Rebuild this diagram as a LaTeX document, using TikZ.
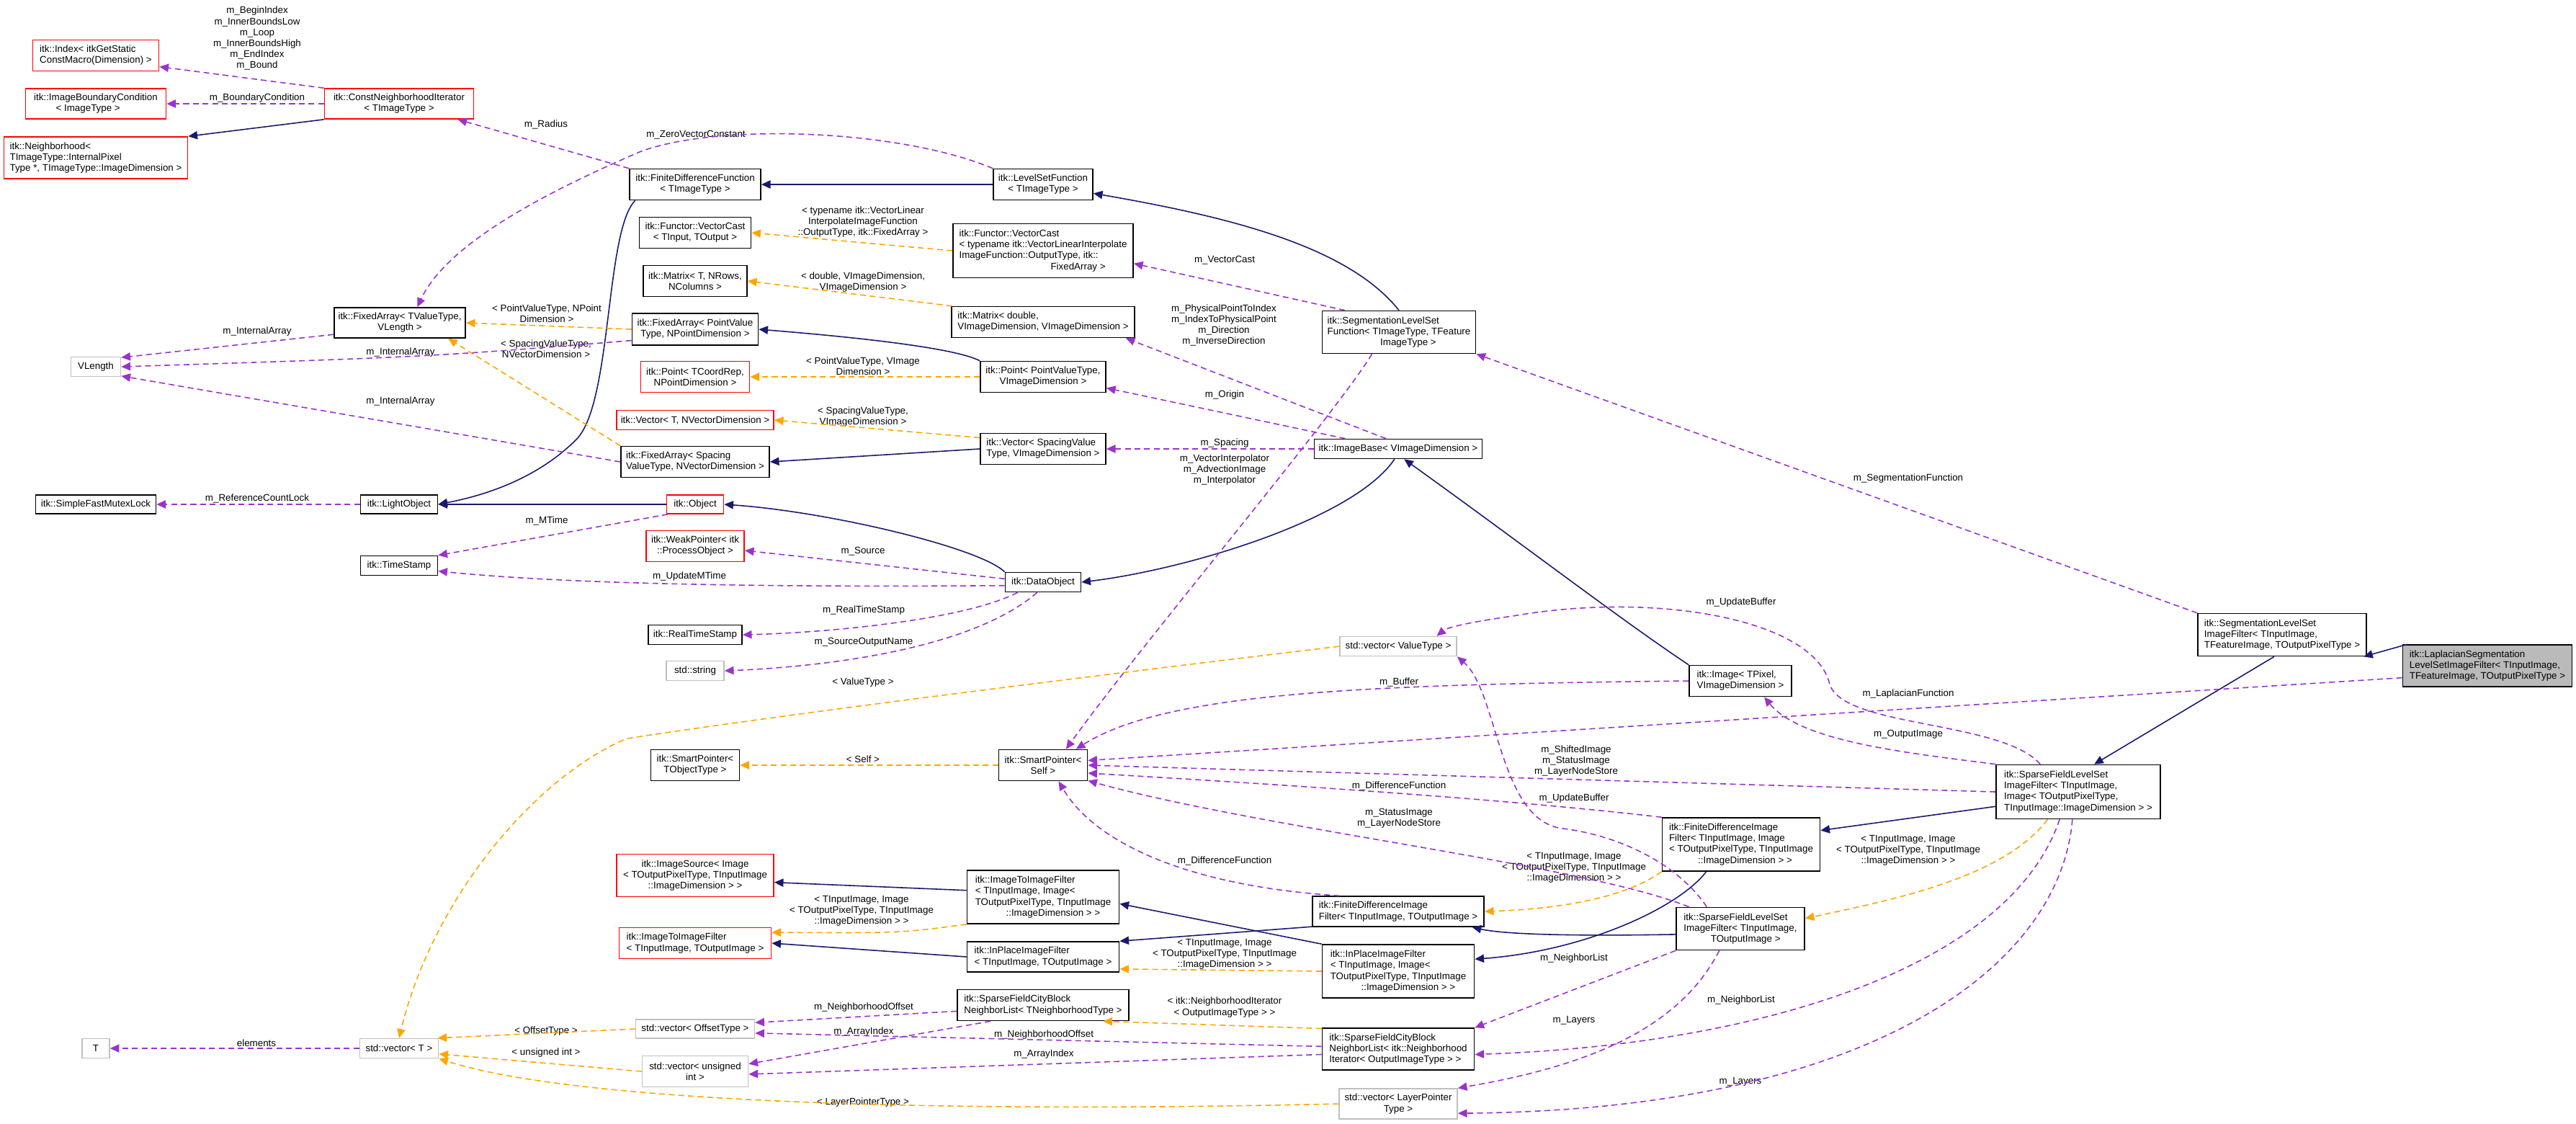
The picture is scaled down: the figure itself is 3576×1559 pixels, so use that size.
\documentclass[tikz,border=0pt]{standalone}
\usepackage{fontspec}
\setmainfont{Liberation Sans}
\usetikzlibrary{arrows.meta}
\definecolor{navy}{HTML}{191970}
\definecolor{purp}{HTML}{9A32CD}
\definecolor{orng}{HTML}{FFA500}
\begin{document}
\begin{tikzpicture}[x=0.01cm,y=-0.01cm,
  every node/.style={font=\fontsize{3.8}{4.27}\selectfont, inner sep=0pt},
  box/.style={draw=black, line width=0.45pt, fill=white, align=left},
  rbox/.style={box, draw=red},
  gbox/.style={box, draw=black!25},
  lbl/.style={align=center},
  tip/.style={-{Triangle[length=3.6pt,width=3.2pt]}},
  inh/.style={tip, draw=navy, line width=0.45pt},
  use/.style={tip, draw=purp, line width=0.45pt, dash pattern=on 2.3pt off 1.5pt},
  tpl/.style={tip, draw=orng, line width=0.45pt, dash pattern=on 2.3pt off 1.5pt}]
\useasboundingbox (0,0) rectangle (3576,1559);
% ---------- nodes ----------
\node[rbox,minimum width=1.75cm,minimum height=0.43cm] (idx) at (133,77) {itk::Index< itkGetStatic\\ConstMacro(Dimension) >};
\node[rbox,minimum width=1.95cm,minimum height=0.42cm] (ibc) at (133,144) {itk::ImageBoundaryCondition\\ \quad\quad\ < ImageType >};
\node[rbox,minimum width=2.55cm,minimum height=0.58cm] (nbh) at (133,219) {itk::Neighborhood<\\ TImageType::InternalPixel\\Type *, TImageType::ImageDimension >};
\node[rbox,minimum width=2.07cm,minimum height=0.42cm,align=center] (cni) at (554,144) {itk::ConstNeighborhoodIterator\\< TImageType >};
\node[box,minimum width=1.82cm,minimum height=0.42cm,align=center] (fatv) at (555,448) {itk::FixedArray< TValueType,\\VLength >};
\node[gbox,minimum width=0.69cm,minimum height=0.27cm] (vlen) at (133,509) {VLength};
\node[box,minimum width=1.67cm,minimum height=0.26cm] (sfml) at (133,700) {itk::SimpleFastMutexLock};
\node[box,minimum width=1.07cm,minimum height=0.26cm] (lobj) at (554,700) {itk::LightObject};
\node[box,minimum width=1.07cm,minimum height=0.27cm] (ts) at (554,785) {itk::TimeStamp};
\node[box,minimum width=1.82cm,minimum height=0.43cm,align=center] (fdf) at (965,256) {itk::FiniteDifferenceFunction\\< TImageType >};
\node[box,minimum width=1.55cm,minimum height=0.43cm,align=center] (vcT) at (965,323) {itk::Functor::VectorCast\\< TInput, TOutput >};
\node[box,minimum width=1.44cm,minimum height=0.43cm,align=center] (mT) at (965,390) {itk::Matrix< T, NRows,\\NColumns >};
\node[box,minimum width=1.75cm,minimum height=0.44cm,align=center] (fapv) at (965,457) {itk::FixedArray< PointValue\\Type, NPointDimension >};
\node[rbox,minimum width=1.51cm,minimum height=0.43cm,align=center] (ptT) at (965,523) {itk::Point< TCoordRep,\\NPointDimension >};
\node[rbox,minimum width=2.18cm,minimum height=0.27cm] (vecT) at (965,583) {itk::Vector< T, NVectorDimension >};
\node[box,minimum width=2.06cm,minimum height=0.43cm] (fas) at (965,641) {itk::FixedArray< Spacing\\ValueType, NVectorDimension >};
\node[rbox,minimum width=0.79cm,minimum height=0.26cm] (obj) at (965,700) {itk::Object};
\node[rbox,minimum width=1.36cm,minimum height=0.43cm,align=center] (wp) at (965,758) {itk::WeakPointer< itk\\::ProcessObject >};
\node[box,minimum width=1.30cm,minimum height=0.27cm] (rts) at (965,881) {itk::RealTimeStamp};
\node[gbox,minimum width=0.80cm,minimum height=0.27cm] (str) at (965,931) {std::string};
\node[box,minimum width=1.23cm,minimum height=0.43cm,align=center] (spT) at (965,1062) {itk::SmartPointer<\\TObjectType >};
\node[rbox,minimum width=2.18cm,minimum height=0.59cm,align=center] (isrc) at (965,1215) {itk::ImageSource< Image\\< TOutputPixelType, TInputImage\\::ImageDimension > >};
\node[rbox,minimum width=2.11cm,minimum height=0.43cm] (itifR) at (965,1309) {itk::ImageToImageFilter\\< TInputImage, TOutputImage >};
\node[gbox,minimum width=1.65cm,minimum height=0.26cm] (vOff) at (965,1428) {std::vector< OffsetType >};
\node[gbox,minimum width=1.47cm,minimum height=0.43cm,align=center] (vUns) at (965,1487) {std::vector< unsigned\\int >};
\node[gbox,minimum width=0.38cm,minimum height=0.27cm] (Tn) at (133,1455) {T};
\node[gbox,minimum width=1.09cm,minimum height=0.27cm] (vT) at (554,1455) {std::vector< T >};
\node[box,minimum width=1.38cm,minimum height=0.43cm,align=center] (lsf) at (1448,256) {itk::LevelSetFunction\\< TImageType >};
\node[box,minimum width=2.50cm,minimum height=0.75cm] (vcTy) at (1448,348) {itk::Functor::VectorCast\\< typename itk::VectorLinearInterpolate\\ImageFunction::OutputType, itk::\\\hspace*{9.5em}FixedArray >};
\node[box,minimum width=2.54cm,minimum height=0.43cm] (mD) at (1448,447) {itk::Matrix< double,\\ VImageDimension, VImageDimension >};
\node[box,minimum width=1.74cm,minimum height=0.43cm,align=center] (ppv) at (1448,523) {itk::Point< PointValueType,\\VImageDimension >};
\node[box,minimum width=1.74cm,minimum height=0.43cm] (vsp) at (1448,623) {itk::Vector< SpacingValue\\Type, VImageDimension >};
\node[box,minimum width=1.05cm,minimum height=0.27cm] (dobj) at (1448,808) {itk::DataObject};
\node[box,minimum width=1.23cm,minimum height=0.43cm,align=center] (spS) at (1448,1062) {itk::SmartPointer<\\Self >};
\node[box,minimum width=2.11cm,minimum height=0.74cm] (itifI) at (1448,1245) {itk::ImageToImageFilter\\< TInputImage, Image<\\ TOutputPixelType, TInputImage\\\hspace*{3.2em}::ImageDimension > >};
\node[box,minimum width=2.11cm,minimum height=0.42cm] (ipT) at (1448,1328) {itk::InPlaceImageFilter\\< TInputImage, TOutputImage >};
\node[box,minimum width=2.38cm,minimum height=0.43cm] (sfcT) at (1448,1395) {itk::SparseFieldCityBlock\\NeighborList< TNeighborhoodType >};
\node[box,minimum width=2.13cm,minimum height=0.59cm] (slsf) at (1942,461) {itk::SegmentationLevelSet\\Function< TImageType, TFeature\\\hspace*{5.5em}ImageType >};
\node[box,minimum width=2.33cm,minimum height=0.27cm] (ib) at (1941,623) {itk::ImageBase< VImageDimension >};
\node[gbox,minimum width=1.62cm,minimum height=0.27cm] (vVT) at (1941,897) {std::vector< ValueType >};
\node[box,minimum width=2.38cm,minimum height=0.42cm] (fdifT) at (1941,1265) {itk::FiniteDifferenceImage\\Filter< TInputImage, TOutputImage >};
\node[box,minimum width=2.11cm,minimum height=0.74cm] (ipI) at (1941,1348) {itk::InPlaceImageFilter\\< TInputImage, Image<\\ TOutputPixelType, TInputImage\\\hspace*{3.2em}::ImageDimension > >};
\node[box,minimum width=2.11cm,minimum height=0.58cm] (sfcN) at (1941,1456) {itk::SparseFieldCityBlock\\NeighborList< itk::Neighborhood\\Iterator< OutputImageType > >};
\node[gbox,minimum width=1.64cm,minimum height=0.42cm,align=center] (vLP) at (1941,1532) {std::vector< LayerPointer\\Type >};
\node[box,minimum width=1.42cm,minimum height=0.43cm] (img) at (2416,945) {itk::Image< TPixel,\\ VImageDimension >};
\node[box,minimum width=2.19cm,minimum height=0.74cm] (fdifI) at (2417,1172) {itk::FiniteDifferenceImage\\Filter< TInputImage, Image\\< TOutputPixelType, TInputImage\\\hspace*{3em}::ImageDimension > >};
\node[box,minimum width=1.78cm,minimum height=0.59cm] (sflsT) at (2416,1289) {itk::SparseFieldLevelSet\\ImageFilter< TInputImage,\\\hspace*{2.8em}TOutputImage >};
\node[box,minimum width=2.28cm,minimum height=0.75cm] (big) at (2885,1099) {itk::SparseFieldLevelSet\\ImageFilter< TInputImage,\\ Image< TOutputPixelType,\\ TInputImage::ImageDimension > >};
\node[box,minimum width=2.34cm,minimum height=0.59cm] (slsif) at (3168,881) {itk::SegmentationLevelSet\\ImageFilter< TInputImage,\\ TFeatureImage, TOutputPixelType >};
\node[box,fill=black!27,minimum width=2.35cm,minimum height=0.58cm] (lap) at (3453,924) {itk::LaplacianSegmentation\\LevelSetImageFilter< TInputImage,\\ TFeatureImage, TOutputPixelType >};
% ---------- labels ----------
\node[lbl] at (357,53) {m\_BeginIndex\\m\_InnerBoundsLow\\m\_Loop\\m\_InnerBoundsHigh\\m\_EndIndex\\m\_Bound};
\node[lbl] at (357,136) {m\_BoundaryCondition};
\node[lbl] at (758,173) {m\_Radius};
\node[lbl] at (966,187) {m\_ZeroVectorConstant};
\node[lbl] at (1198,308) {< typename itk::VectorLinear\\InterpolateImageFunction\\::OutputType, itk::FixedArray >};
\node[lbl] at (1700,361) {m\_VectorCast};
\node[lbl] at (1198,392) {< double, VImageDimension,\\ VImageDimension >};
\node[lbl] at (1699,451) {m\_PhysicalPointToIndex\\m\_IndexToPhysicalPoint\\m\_Direction\\m\_InverseDirection};
\node[lbl] at (759,435) {< PointValueType, NPoint\\Dimension >};
\node[lbl] at (357,460) {m\_InternalArray};
\node[lbl] at (556,489) {m\_InternalArray};
\node[lbl] at (758,484) {< SpacingValueType,\\ NVectorDimension >};
\node[lbl] at (1198,508) {< PointValueType, VImage\\Dimension >};
\node[lbl] at (1700,548) {m\_Origin};
\node[lbl] at (1198,579) {< SpacingValueType,\\ VImageDimension >};
\node[lbl] at (556,557) {m\_InternalArray};
\node[lbl] at (1700,615) {m\_Spacing};
\node[lbl] at (1700,652) {m\_VectorInterpolator\\m\_AdvectionImage\\m\_Interpolator};
\node[lbl] at (2649,664) {m\_SegmentationFunction};
\node[lbl] at (357,692) {m\_ReferenceCountLock};
\node[lbl] at (759,723) {m\_MTime};
\node[lbl] at (1198,765) {m\_Source};
\node[lbl] at (957,800) {m\_UpdateMTime};
\node[lbl] at (2417,836) {m\_UpdateBuffer};
\node[lbl] at (1199,847) {m\_RealTimeStamp};
\node[lbl] at (1199,891) {m\_SourceOutputName};
\node[lbl] at (1198,947) {< ValueType >};
\node[lbl] at (1942,947) {m\_Buffer};
\node[lbl] at (2649,963) {m\_LaplacianFunction};
\node[lbl] at (2649,1019) {m\_OutputImage};
\node[lbl] at (1198,1054) {< Self >};
\node[lbl] at (2188,1056) {m\_ShiftedImage\\m\_StatusImage\\m\_LayerNodeStore};
\node[lbl] at (1942,1091) {m\_DifferenceFunction};
\node[lbl] at (2185,1108) {m\_UpdateBuffer};
\node[lbl] at (1942,1136) {m\_StatusImage\\m\_LayerNodeStore};
\node[lbl] at (2649,1180) {< TInputImage, Image\\< TOutputPixelType, TInputImage\\::ImageDimension > >};
\node[lbl] at (1700,1195) {m\_DifferenceFunction};
\node[lbl] at (2185,1204) {< TInputImage, Image\\< TOutputPixelType, TInputImage\\::ImageDimension > >};
\node[lbl] at (1196,1264) {< TInputImage, Image\\< TOutputPixelType, TInputImage\\::ImageDimension > >};
\node[lbl] at (1700,1324) {< TInputImage, Image\\< TOutputPixelType, TInputImage\\::ImageDimension > >};
\node[lbl] at (2185,1330) {m\_NeighborList};
\node[lbl] at (2417,1388) {m\_NeighborList};
\node[lbl] at (1700,1398) {< itk::NeighborhoodIterator\\< OutputImageType > >};
\node[lbl] at (1199,1398) {m\_NeighborhoodOffset};
\node[lbl] at (2185,1416) {m\_Layers};
\node[lbl] at (1199,1432) {m\_ArrayIndex};
\node[lbl] at (758,1431) {< OffsetType >};
\node[lbl] at (1449,1436) {m\_NeighborhoodOffset};
\node[lbl] at (356,1448) {elements};
\node[lbl] at (758,1461) {< unsigned int >};
\node[lbl] at (1449,1463) {m\_ArrayIndex};
\node[lbl] at (2416,1501) {m\_Layers};
\node[lbl] at (1198,1530) {< LayerPointerType >};
% ---------- inheritance ----------
\draw[inh] (cni.south west) -- (nbh.north east);
\draw[inh] (lsf.west) -- (fdf.east);
\draw[inh] (fdf.195) .. controls (840,320) and (850,560) .. (800,610) .. controls (740,670) and (660,690) .. (lobj.east);
\draw[inh] (obj.west) -- (lobj.east);
\draw[inh] (slsf.north) .. controls (1870,340) and (1700,300) .. (lsf.-10);
\draw[inh] (ppv.north west) .. controls (1320,480) and (1150,465) .. (fapv.east);
\draw[inh] (vsp.west) -- (fas.east);
\draw[inh] (dobj.north west) .. controls (1360,760) and (1150,710) .. (obj.east);
\draw[inh] (ib.250) .. controls (1880,720) and (1650,790) .. (dobj.east);
\draw[inh] (img.north west) .. controls (2250,860) and (2120,760) .. (ib.-60);
\draw[inh] (lap.165) -- (slsif.-15);
\draw[inh] (slsif.250) -- (big.60);
\draw[inh] (big.190) -- (fdifI.10);
\draw[inh] (fdifI.218) .. controls (2330,1260) and (2200,1320) .. (ipI.9);
\draw[inh] (sflsT.185) .. controls (2150,1300) and (2080,1295) .. (fdifT.-12);
\draw[inh] (ipI.north west) -- (itifI.-5);
\draw[inh] (fdifT.190) -- (ipT.north east);
\draw[inh] (itifI.175) -- (isrc.-5);
\draw[inh] (ipT.west) -- (itifR.east);
% ---------- templates ----------
\draw[tpl] (vcTy.west) -- (vcT.east);
\draw[tpl] (mD.170) -- (mT.east);
\draw[tpl] (fapv.west) -- (fatv.east);
\draw[tpl] (fas.north west) -- (fatv.-18);
\draw[tpl] (ppv.west) -- (ptT.east);
\draw[tpl] (vsp.170) -- (vecT.east);
\draw[tpl] (spS.west) -- (spT.east);
\draw[tpl] (vVT.west) .. controls (1500,940) and (1100,990) .. (870,1025) .. controls (740,1080) and (600,1250) .. (vT.north);
\draw[tpl] (vOff.west) -- (vT.15);
\draw[tpl] (vUns.west) -- (vT.-8);
\draw[tpl] (vLP.west) .. controls (1300,1545) and (800,1530) .. (vT.south east);
\draw[tpl] (itifI.south west) .. controls (1250,1295) .. (itifR.8);
\draw[tpl] (ipI.west) -- (ipT.-9);
\draw[tpl] (sfcN.165) -- (sfcT.-15);
\draw[tpl] (fdifI.south west) .. controls (2250,1250) and (2150,1262) .. (fdifT.east);
\draw[tpl] (big.222) .. controls (2780,1220) and (2620,1250) .. (sflsT.9);
% ---------- usage ----------
\draw[use] (cni.north west) -- (idx.-10);
\draw[use] (cni.west) -- (ibc.east);
\draw[use] (fdf.north west) -- (cni.-15);
\draw[use] (lsf.north west) .. controls (1250,180) and (1000,170) .. (890,210) .. controls (750,270) and (620,340) .. (fatv.42);
\draw[use] (fatv.190) -- (vlen.20);
\draw[use] (fapv.190) .. controls (600,495) .. (vlen.east);
\draw[use] (fas.west) -- (vlen.-20);
\draw[use] (lobj.west) -- (sfml.east);
\draw[use] (obj.200) -- (ts.north east);
\draw[use] (dobj.175) -- (wp.-5);
\draw[use] (dobj.185) .. controls (1100,815) and (800,812) .. (ts.-8);
\draw[use] (dobj.202) .. controls (1340,860) and (1150,878) .. (rts.east);
\draw[use] (dobj.240) .. controls (1350,900) and (1150,925) .. (str.east);
\draw[use] (slsf.158) -- (vcTy.-8);
\draw[use] (ib.140) -- (mD.-11);
\draw[use] (ib.169) -- (ppv.-10);
\draw[use] (ib.west) -- (vsp.east);
\draw[use] (slsf.219) .. controls (1850,580) and (1580,900) .. (spS.35);
\draw[use] (img.west) .. controls (1900,950) and (1620,960) .. (spS.26);
\draw[use] (lap.188) -- (spS.6);
\draw[use] (big.west) -- (spS.east);
\draw[use] (fdifI.north west) .. controls (2100,1110) and (1800,1090) .. (spS.-10);
\draw[use] (sflsT.157) .. controls (2200,1200) and (1750,1150) .. (spS.-19);
\draw[use] (fdifT.165) .. controls (1650,1230) and (1520,1170) .. (spS.-46);
\draw[use] (slsif.north west) -- (slsf.south east);
\draw[use] (big.144) .. controls (2780,1000) and (2560,1010) .. (2540,950) .. controls (2520,860) and (2300,820) .. (2100,855) .. controls (2050,862) and (2010,870) .. (vVT.15);
\draw[use] (sflsT.147) .. controls (2330,1200) and (2250,1160) .. (2170,1150) .. controls (2080,1140) and (2080,960) .. (vVT.south east);
\draw[use] (big.north west) .. controls (2650,1045) and (2500,1030) .. (img.-34);
\draw[use] (sflsT.south west) -- (sfcN.north east);
\draw[use] (big.236) .. controls (2790,1340) and (2450,1450) .. (sfcN.-4);
\draw[use] (sflsT.226) .. controls (2330,1430) and (2200,1480) .. (vLP.north east);
\draw[use] (big.258) .. controls (2860,1340) and (2600,1540) .. (vLP.-9);
\draw[use] (sfcT.184) -- (vOff.6);
\draw[use] (sfcT.197) -- (vUns.8);
\draw[use] (sfcN.178) -- (vOff.-4);
\draw[use] (sfcN.184) -- (vUns.-3);
\draw[use] (vT.west) -- (Tn.east);
\end{tikzpicture}
\end{document}
